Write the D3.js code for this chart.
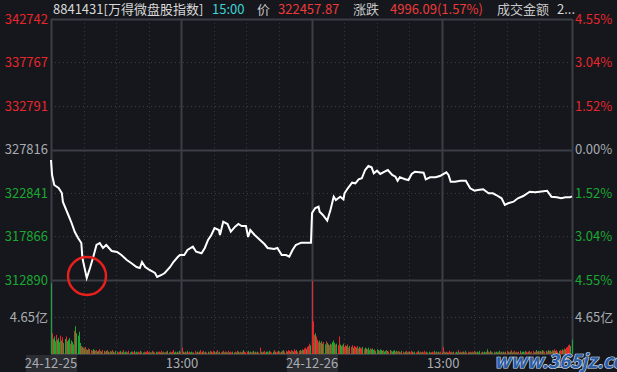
<!DOCTYPE html>
<html>
<head>
<meta charset="utf-8">
<script src="https://cdn.jsdelivr.net/npm/d3@7"></script>
<style>
  html, body { margin: 0; padding: 0; background: #15171c; }
  svg { display: block; }
  text { font-family: "Noto Sans CJK SC", "Noto Sans", sans-serif; }
</style>
</head>
<body>
<svg id="chart" width="617" height="372"></svg>
<script>
(function () {
    // 分时数据: [分钟序号, 价格]，两天各 241 个点
    var priceMinutes = [0, 1, 3, 7, 10, 11, 16, 19, 22, 25, 28, 29, 30, 33, 36, 39, 42, 45, 48, 51,
        56, 61, 65, 70, 74, 79, 82, 84, 87, 91, 96, 98, 102, 105, 110, 113, 117, 119, 123, 126,
        131, 134, 139, 142, 145, 148, 151, 155, 156, 159, 163, 166, 170, 173, 176, 180, 182, 184, 188, 193,
        197, 200, 206, 209, 213, 217, 220, 223, 226, 231, 240,
        241, 244, 247, 248, 251, 255, 258, 261, 263, 267, 270, 271, 274, 278, 281, 284, 287, 290, 293, 296,
        298, 301, 304, 308, 311, 315, 318, 320, 322, 327, 330, 333, 336, 344, 346, 350, 355, 359, 365, 367,
        369, 373, 378, 383, 387, 391, 394, 399, 404, 408, 411, 416, 419, 422, 427, 431, 436, 442, 447, 451,
        458, 462, 467, 471, 475, 479, 481];
    var prices = [326615, 324900, 323756, 323413, 322841, 321812, 320325, 319410, 318380, 317694, 317122, 315407, 314835, 313120, 314263, 315521, 316894, 317122, 316551, 316894,
        316208, 316093, 315750, 315178, 314835, 314378, 314263, 314950, 314378, 314034, 313692, 313234, 313463, 313692, 314378, 314950, 315521, 315750, 315750, 316322,
        316699, 316127, 315944, 316551, 317466, 318037, 318838, 318609, 318037, 319558, 319295, 318415, 318987, 319295, 319067, 319067, 317809, 318609, 318037, 317466,
        317008, 316551, 316436, 316551, 315750, 315750, 315556, 316322, 316894, 317157, 317157,
        320554, 321125, 321274, 320702, 320325, 319673, 320897, 322418, 322040, 322418, 322120, 322807, 323378, 324019, 323950, 324408, 324522, 325471, 325929, 325780,
        325094, 325391, 325014, 325277, 325471, 324900, 324705, 324248, 324636, 324408, 324328, 325014, 325277, 325163, 324408, 324636, 324636, 324785, 325208, 324900,
        324133, 324133, 324248, 324248, 323378, 323104, 323184, 323264, 322807, 322807, 322612, 322235, 321469, 321663, 321846, 322235, 322498, 322990, 322921, 322990,
        323104, 322418, 322349, 322235, 322349, 322349, 322458];

    // 成交额 (单位: 千万元)，每分钟一根
    var day1Volume = [89, 26, 19, 22, 16, 24, 18, 20, 15, 23, 17, 21, 14, 19, 22, 16, 18, 20, 13, 17,
        15, 12, 29, 35, 26, 23, 28, 14, 10, 9, 8, 7, 9, 6, 5, 7, 6, 5, 4, 6,
        5, 4, 5, 3, 4, 6, 4, 3, 5, 4, 3, 4, 5, 3, 2, 4, 3, 5, 3, 2,
        4, 3, 2, 3, 4, 2, 3, 5, 2, 3, 3, 2, 4, 2, 3, 3, 2, 4, 2, 3,
        2, 3, 2, 4, 3, 2, 3, 2, 3, 4, 2, 3, 2, 2, 4, 3, 2, 3, 2, 3,
        3, 2, 4, 2, 3, 2, 2, 3, 4, 2, 3, 2, 3, 5, 2, 3, 2, 3, 2, 4,
        3, 8, 3, 2, 3, 2, 4, 2, 3, 2, 3, 2, 2, 4, 2, 3, 2, 3, 5, 2,
        3, 4, 2, 3, 2, 3, 2, 4, 3, 2, 4, 3, 2, 3, 5, 2, 3, 2, 3, 4,
        2, 3, 3, 2, 4, 2, 3, 2, 3, 2, 3, 2, 4, 3, 2, 3, 2, 3, 5, 3,
        2, 3, 4, 2, 3, 2, 3, 4, 2, 3, 2, 3, 2, 8, 3, 2, 3, 4, 2, 3,
        3, 2, 4, 3, 2, 3, 5, 3, 2, 3, 4, 3, 2, 3, 4, 5, 3, 4, 3, 5,
        4, 3, 5, 4, 3, 6, 4, 5, 3, 4, 5, 4, 6, 5, 7, 8, 6, 9, 10, 13, 11];
    var day2Volume = [92, 41, 24, 26, 22, 18, 15, 17, 14, 16, 13, 15, 12, 16, 14, 12, 11, 13, 12, 15,
        17, 14, 12, 13, 11, 22, 12, 10, 11, 13, 9, 11, 10, 12, 8, 10, 9, 11, 8, 10,
        9, 8, 10, 7, 9, 8, 7, 9, 6, 8, 7, 6, 8, 5, 7, 6, 7, 5, 6, 4,
        6, 5, 4, 6, 5, 4, 5, 3, 4, 5, 4, 3, 5, 4, 3, 4, 5, 3, 4, 3,
        4, 3, 2, 4, 3, 2, 3, 4, 2, 3, 3, 2, 4, 3, 2, 3, 2, 3, 4, 2,
        3, 2, 3, 2, 4, 2, 3, 2, 3, 2, 2, 3, 2, 4, 2, 3, 2, 3, 2, 3,
        2, 9, 3, 2, 3, 2, 2, 4, 2, 3, 2, 3, 2, 3, 2, 5, 2, 3, 2, 3,
        3, 2, 4, 2, 3, 2, 3, 2, 3, 2, 4, 3, 2, 3, 2, 4, 2, 3, 2, 3,
        2, 3, 6, 3, 2, 4, 3, 2, 3, 2, 3, 2, 3, 4, 2, 3, 2, 3, 2, 3,
        4, 3, 2, 3, 5, 2, 3, 4, 2, 3, 2, 3, 4, 2, 3, 3, 2, 4, 3, 2,
        3, 4, 2, 3, 4, 2, 3, 5, 3, 4, 3, 4, 3, 5, 4, 3, 4, 3, 5, 4,
        4, 3, 5, 4, 6, 4, 5, 3, 4, 5, 4, 6, 5, 7, 6, 8, 9, 11, 12, 10, 18];
    // r = 涨(红), g = 跌(绿)
    var day1Dir = ["grgggrgggr", "grggrgggrg", "ggrgggggrg", "rgrrgrgrrg", "grrggrrgrg", "rgrgrrgrgr",
        "ggrrgrgrgg", "rgrggrrgrg", "grrgrgrgrr", "grgrrgrggr", "rgrgrrgrgg", "rgrrggrgrg",
        "rrgrgrgrrg", "grgrrgrgrr", "grrgrgrrgr", "rgrgrrgrgr", "grrgrgrrgg", "rgrgrrgrgr",
        "rrgrgrrgrg", "rgrrgrgrrg", "grgrrgrgrr", "grrgrgrrgr", "rgrrgrrgrr", "grrgrrgrrrg"];
    var day2Dir = ["rrrgrrrgrg", "grgrggrgrg", "ggrgrrggrg", "rrgrrgrrgr", "rgrrgrrgrg", "grggrgggrg",
        "ggrgggrggr", "grgrgggrgr", "rgrgrrgrgr", "grrgrgrrgr", "rgrgrrgrgr", "grrgrgrgrr",
        "grrgrgrrgr", "rgrggrgrgr", "grgrrgrgrg", "rgrgggrgrg", "grgrggrgrg", "ggrgrgrgrg",
        "rgrgrgrrgr", "grgrggrgrr", "grgrrgrgrg", "rgrgrrgrgr", "grrgrgrrgr", "rgrrgrrrrgg"];

    var prevClose = 327816;
    var priceTicks = [342742, 337767, 332791, 327816, 322841, 317866, 312890];
    var percentTicks = ['4.55%', '3.04%', '1.52%', '0.00%', '1.52%', '3.04%', '4.55%'];
    var volumeTick = 46.5, volumeTickLabel = '4.65亿';
    var timeLabels = [
        { i: 0, text: '24-12-25', box: true },
        { i: 121, text: '13:00' },
        { i: 241, text: '24-12-26', box: true },
        { i: 362, text: '13:00' },
        { i: 481, text: '15:00' }
    ];
    var header = [
        { x: 53, text: '8841431[万得微盘股指数]', color: '#d8d8d8' },
        { x: 212, text: '15:00', color: '#3fd3d6' },
        { x: 257, text: '价', color: '#c8c8c8' },
        { x: 278, text: '322457.87', color: '#ee3a3a' },
        { x: 353, text: '涨跌', color: '#c8c8c8' },
        { x: 390, text: '4996.09(1.57%)', color: '#ee3a3a' },
        { x: 497, text: '成交金额', color: '#c8c8c8' },
        { x: 557, text: '2...', color: '#d8d8d8' }
    ];

    var RED = '#e8262c', GREEN = '#1ba832', GRID = '#3b3e45', LABEL = '#a9acb2';
    var left = 51, right = 572, top = 19, priceBottom = 280, volBottom = 354;

    var svg = d3.select('#chart');

    var x = d3.scaleLinear().domain([0, 481]).range([left, right]);
    var y = d3.scaleLinear().domain([312890, 342742]).range([priceBottom, top]);
    var yv = d3.scaleLinear().domain([0, 93]).range([volBottom, priceBottom]);

    var grid = svg.append('g');

    // 竖线
    d3.range(17).forEach(function (k) {
        var xx = Math.round(x(k * 481 / 16)) + 0.5;
        var solid = k % 4 === 0;
        grid.append('line')
            .attr('x1', xx).attr('x2', xx)
            .attr('y1', top).attr('y2', volBottom)
            .attr('stroke', solid ? GRID : '#33363c')
            .attr('stroke-width', solid ? 2 : 1)
            .attr('stroke-dasharray', solid ? null : '1,3');
    });

    // 横线
    priceTicks.forEach(function (p, k) {
        var yy = Math.round(y(p)) + 0.5;
        var solid = k === 0 || p === prevClose || k === priceTicks.length - 1;
        grid.append('line')
            .attr('x1', left).attr('x2', right)
            .attr('y1', yy).attr('y2', yy)
            .attr('stroke', solid ? GRID : '#3a3d44')
            .attr('stroke-width', solid ? 2 : 1)
            .attr('stroke-dasharray', solid ? null : '1,3');
    });
    grid.append('line')
        .attr('x1', left).attr('x2', right)
        .attr('y1', Math.round(yv(volumeTick)) + 0.5).attr('y2', Math.round(yv(volumeTick)) + 0.5)
        .attr('stroke', '#3a3d44').attr('stroke-dasharray', '1,3');
    grid.append('line')
        .attr('x1', left).attr('x2', right)
        .attr('y1', volBottom).attr('y2', volBottom)
        .attr('stroke', GRID).attr('stroke-width', 2);

    // 成交额柱
    var dir1 = day1Dir.join(''), dir2 = day2Dir.join('');
    var bars = day1Volume.map(function (v, i) { return { i: i, v: v, d: dir1[i] }; })
        .concat(day2Volume.map(function (v, i) { return { i: i + 241, v: v, d: dir2[i] }; }));

    svg.append('g').selectAll('rect')
        .data(bars)
        .enter().append('rect')
        .attr('x', function (d) { return Math.floor(x(d.i)); })
        .attr('width', 1)
        .attr('y', function (d) { return yv(d.v); })
        .attr('height', function (d) { return volBottom - yv(d.v); })
        .attr('fill', function (d) { return d.d === 'r' ? RED : GREEN; });

    // 价格线
    var pts = priceMinutes.map(function (m, i) { return [m, prices[i]]; });
    svg.append('path')
        .datum(pts)
        .attr('fill', 'none')
        .attr('stroke', '#ffffff')
        .attr('stroke-width', 2)
        .attr('stroke-linejoin', 'miter')
        .attr('d', d3.line()
            .x(function (d) { return x(d[0]); })
            .y(function (d) { return y(d[1]); }));

    // 左侧价格刻度
    var tickColor = function (p) {
        return p > prevClose ? RED : (p < prevClose ? GREEN : LABEL);
    };
    svg.append('g').selectAll('text')
        .data(priceTicks)
        .enter().append('text')
        .attr('x', 48)
        .attr('y', function (d) { return y(d); })
        .attr('dy', '0.36em')
        .attr('text-anchor', 'end')
        .attr('font-size', 13)
        .attr('fill', tickColor)
        .text(function (d) { return d; });

    // 右侧百分比
    svg.append('g').selectAll('text')
        .data(priceTicks)
        .enter().append('text')
        .attr('x', 575)
        .attr('y', function (d) { return y(d); })
        .attr('dy', '0.36em')
        .attr('font-size', 13)
        .attr('fill', tickColor)
        .text(function (d, i) { return percentTicks[i]; });

    svg.append('text')
        .attr('x', 48).attr('y', yv(volumeTick)).attr('dy', '0.36em')
        .attr('text-anchor', 'end').attr('font-size', 13).attr('fill', LABEL)
        .text(volumeTickLabel);
    svg.append('text')
        .attr('x', 575).attr('y', yv(volumeTick)).attr('dy', '0.36em')
        .attr('font-size', 13).attr('fill', LABEL)
        .text(volumeTickLabel);

    // 底部时间
    var tl = svg.append('g').selectAll('g')
        .data(timeLabels)
        .enter().append('g')
        .attr('transform', function (d) { return 'translate(' + x(d.i) + ',0)'; });
    tl.filter(function (d) { return d.box; })
        .append('rect')
        .attr('x', -25).attr('y', 355).attr('width', 51).attr('height', 17)
        .attr('fill', '#2b2d33');
    tl.append('text')
        .attr('y', 368)
        .attr('text-anchor', 'middle')
        .attr('font-size', 13)
        .attr('fill', LABEL)
        .text(function (d) { return d.text; });

    // 顶部信息栏
    svg.append('g').selectAll('text')
        .data(header)
        .enter().append('text')
        .attr('x', function (d) { return d.x; })
        .attr('y', 14)
        .attr('font-size', 13)
        .attr('fill', function (d) { return d.color; })
        .text(function (d) { return d.text; });

    // 红圈标注最低点
    svg.append('circle')
        .attr('cx', 87).attr('cy', 276).attr('r', 19)
        .attr('fill', 'none')
        .attr('stroke', '#e8201c')
        .attr('stroke-width', 2.5);

    // 水印
    svg.append('text')
        .attr('x', 494).attr('y', 368)
        .attr('font-family', 'DejaVu Sans')
        .attr('font-weight', 'bold')
        .attr('font-style', 'italic')
        .attr('font-size', 19)
        .attr('fill', '#2c5ea8')
        .attr('stroke', '#d8e2f0')
        .attr('stroke-width', 1.2)
        .attr('paint-order', 'stroke')
        .text('www.365jz.com');
}());
</script>
</body>
</html>
